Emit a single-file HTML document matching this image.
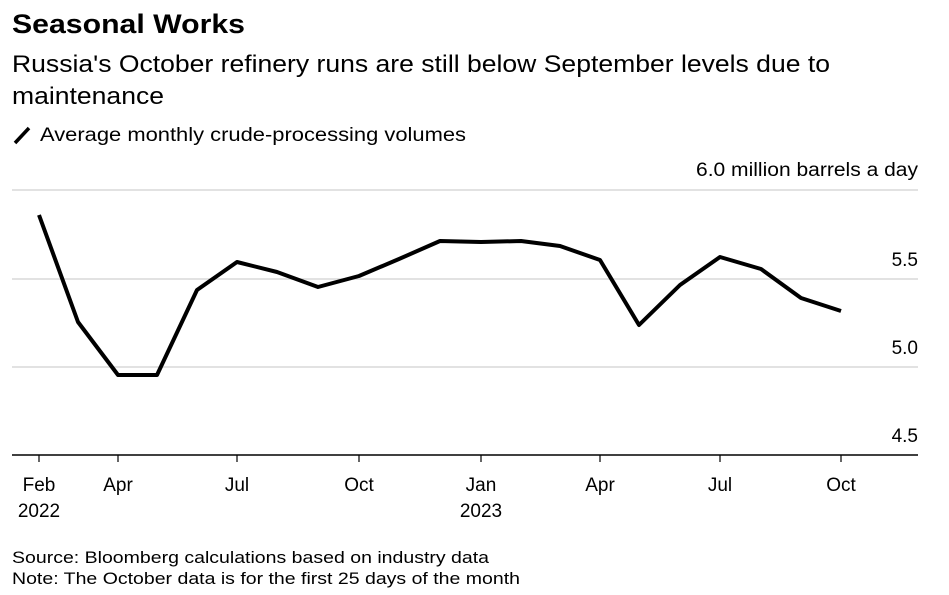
<!DOCTYPE html>
<html><head><meta charset="utf-8"><style>
body{margin:0;background:#fff;width:949px;height:590px;overflow:hidden;font-family:"Liberation Sans",Arial,sans-serif;color:#000}
</style></head><body>
<svg width="949" height="590" xmlns="http://www.w3.org/2000/svg" font-family="Liberation Sans, Arial, sans-serif">
<text x="12" y="33" font-size="27" font-weight="bold" textLength="233" lengthAdjust="spacingAndGlyphs">Seasonal Works</text>
<text x="12" y="72" font-size="24" textLength="818" lengthAdjust="spacingAndGlyphs">Russia's October refinery runs are still below September levels due to</text>
<text x="12" y="104" font-size="24" textLength="152" lengthAdjust="spacingAndGlyphs">maintenance</text>
<line x1="15" y1="143" x2="29" y2="128" stroke="#000" stroke-width="3.5"/>
<text x="40" y="141" font-size="19" textLength="426" lengthAdjust="spacingAndGlyphs">Average monthly crude-processing volumes</text>
<text x="918" y="176" font-size="19" text-anchor="end" textLength="222" lengthAdjust="spacingAndGlyphs">6.0 million barrels a day</text>
<g stroke="#d9d9d9" stroke-width="1.5">
<line x1="12" y1="190" x2="918" y2="190"/>
<line x1="12" y1="279" x2="918" y2="279"/>
<line x1="12" y1="367" x2="918" y2="367"/>
</g>
<line x1="12" y1="455" x2="918" y2="455" stroke="#000" stroke-width="1.5"/>
<g font-size="19" text-anchor="end">
<text x="918" y="266">5.5</text>
<text x="918" y="354">5.0</text>
<text x="918" y="442">4.5</text>
</g>
<g stroke="#000" stroke-width="1.2">
<line x1="39" y1="455" x2="39" y2="462"/><line x1="118" y1="455" x2="118" y2="462"/>
<line x1="237" y1="455" x2="237" y2="462"/><line x1="359" y1="455" x2="359" y2="462"/>
<line x1="481" y1="455" x2="481" y2="462"/><line x1="600" y1="455" x2="600" y2="462"/>
<line x1="720" y1="455" x2="720" y2="462"/><line x1="841" y1="455" x2="841" y2="462"/>
</g>
<g font-size="19" text-anchor="middle">
<text x="39" y="491">Feb</text><text x="39" y="517">2022</text>
<text x="118" y="491">Apr</text><text x="237" y="491">Jul</text><text x="359" y="491">Oct</text>
<text x="481" y="491">Jan</text><text x="481" y="517">2023</text>
<text x="600" y="491">Apr</text><text x="720" y="491">Jul</text><text x="841" y="491">Oct</text>
</g>
<polyline fill="none" stroke="#000" stroke-width="4" stroke-linejoin="round" points="39,215 78,322 118,375 157,375 197,290 237,262 277,272 318,287 359,276 399,259 440,241 481,242 521,241 560,246 600,260 639,325 680,285 720,257 761,269 801,298 841,311"/>
<text x="12" y="563" font-size="17" textLength="477" lengthAdjust="spacingAndGlyphs">Source: Bloomberg calculations based on industry data</text>
<text x="12" y="584" font-size="17" textLength="508" lengthAdjust="spacingAndGlyphs">Note: The October data is for the first 25 days of the month</text>
</svg>
</body></html>
